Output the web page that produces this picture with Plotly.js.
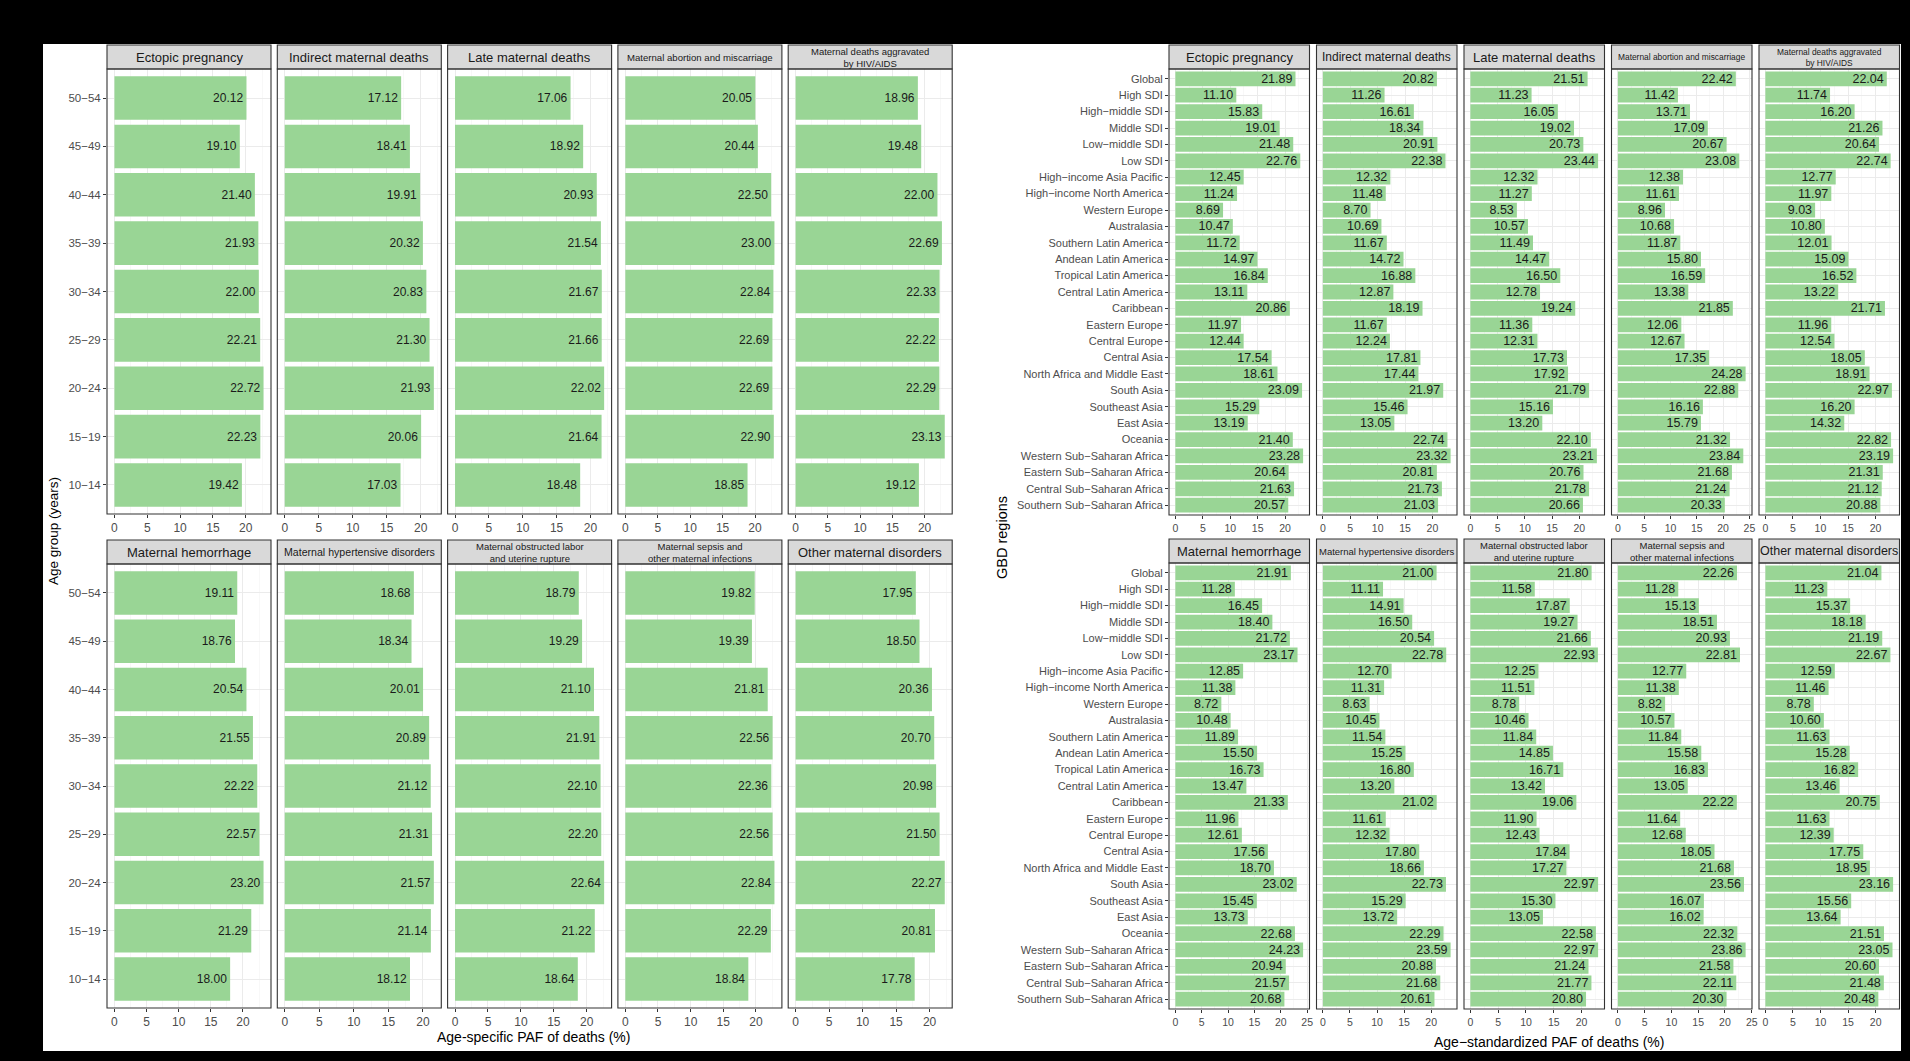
<!DOCTYPE html>
<html><head><meta charset="utf-8">
<script src="https://cdn.plot.ly/plotly-3.0.1.min.js"></script>
<style>html,body{margin:0;padding:0;background:#000;} #chart{width:1910px;height:1061px;}</style>
</head><body><div id="chart"></div>
<script>
// ---------- DATA ----------
const causeTitles = ["Ectopic pregnancy","Indirect maternal deaths","Late maternal deaths","Maternal abortion and miscarriage","Maternal deaths aggravated<br>by HIV/AIDS","Maternal hemorrhage","Maternal hypertensive disorders","Maternal obstructed labor<br>and uterine rupture","Maternal sepsis and<br>other maternal infections","Other maternal disorders"];

// age groups listed top to bottom
const ageGroups = ["50\u221254","45\u221249","40\u221244","35\u221239","30\u221234","25\u221229","20\u221224","15\u221219","10\u221214"];
const ageEctopic     = [20.12,19.10,21.40,21.93,22.00,22.21,22.72,22.23,19.42];
const ageIndirect    = [17.12,18.41,19.91,20.32,20.83,21.30,21.93,20.06,17.03];
const ageLate        = [17.06,18.92,20.93,21.54,21.67,21.66,22.02,21.64,18.48];
const ageAbortion    = [20.05,20.44,22.50,23.00,22.84,22.69,22.69,22.90,18.85];
const ageHIV         = [18.96,19.48,22.00,22.69,22.33,22.22,22.29,23.13,19.12];
const ageHemorrhage  = [19.11,18.76,20.54,21.55,22.22,22.57,23.20,21.29,18.00];
const ageHypert      = [18.68,18.34,20.01,20.89,21.12,21.31,21.57,21.14,18.12];
const ageObstructed  = [18.79,19.29,21.10,21.91,22.10,22.20,22.64,21.22,18.64];
const ageSepsis      = [19.82,19.39,21.81,22.56,22.36,22.56,22.84,22.29,18.84];
const ageOther       = [17.95,18.50,20.36,20.70,20.98,21.50,22.27,20.81,17.78];

// GBD regions listed top to bottom
const regions = ["Global","High SDI","High\u2212middle SDI","Middle SDI","Low\u2212middle SDI","Low SDI","High\u2212income Asia Pacific","High\u2212income North America","Western Europe","Australasia","Southern Latin America","Andean Latin America","Tropical Latin America","Central Latin America","Caribbean","Eastern Europe","Central Europe","Central Asia","North Africa and Middle East","South Asia","Southeast Asia","East Asia","Oceania","Western Sub\u2212Saharan Africa","Eastern Sub\u2212Saharan Africa","Central Sub\u2212Saharan Africa","Southern Sub\u2212Saharan Africa"];
const regEctopic    = [21.89,11.10,15.83,19.01,21.48,22.76,12.45,11.24,8.69,10.47,11.72,14.97,16.84,13.11,20.86,11.97,12.44,17.54,18.61,23.09,15.29,13.19,21.40,23.28,20.64,21.63,20.57];
const regIndirect   = [20.82,11.26,16.61,18.34,20.91,22.38,12.32,11.48,8.70,10.69,11.67,14.72,16.88,12.87,18.19,11.67,12.24,17.81,17.44,21.97,15.46,13.05,22.74,23.32,20.81,21.73,21.03];
const regLate       = [21.51,11.23,16.05,19.02,20.73,23.44,12.32,11.27,8.53,10.57,11.49,14.47,16.50,12.78,19.24,11.36,12.31,17.73,17.92,21.79,15.16,13.20,22.10,23.21,20.76,21.78,20.66];
const regAbortion   = [22.42,11.42,13.71,17.09,20.67,23.08,12.38,11.61,8.96,10.68,11.87,15.80,16.59,13.38,21.85,12.06,12.67,17.35,24.28,22.88,16.16,15.79,21.32,23.84,21.68,21.24,20.33];
const regHIV        = [22.04,11.74,16.20,21.26,20.64,22.74,12.77,11.97,9.03,10.80,12.01,15.09,16.52,13.22,21.71,11.96,12.54,18.05,18.91,22.97,16.20,14.32,22.82,23.19,21.31,21.12,20.88];
const regHemorrhage = [21.91,11.28,16.45,18.40,21.72,23.17,12.85,11.38,8.72,10.48,11.89,15.50,16.73,13.47,21.33,11.96,12.61,17.56,18.70,23.02,15.45,13.73,22.68,24.23,20.94,21.57,20.68];
const regHypert     = [21.00,11.11,14.91,16.50,20.54,22.78,12.70,11.31,8.63,10.45,11.54,15.25,16.80,13.20,21.02,11.61,12.32,17.80,18.66,22.73,15.29,13.72,22.29,23.59,20.88,21.68,20.61];
const regObstructed = [21.80,11.58,17.87,19.27,21.66,22.93,12.25,11.51,8.78,10.46,11.84,14.85,16.71,13.42,19.06,11.90,12.43,17.84,17.27,22.97,15.30,13.05,22.58,22.97,21.24,21.77,20.80];
const regSepsis     = [22.26,11.28,15.13,18.51,20.93,22.81,12.77,11.38,8.82,10.57,11.84,15.58,16.83,13.05,22.22,11.64,12.68,18.05,21.68,23.56,16.07,16.02,22.32,23.86,21.58,22.11,20.30];
const regOther      = [21.04,11.23,15.37,18.18,21.19,22.67,12.59,11.46,8.78,10.60,11.63,15.28,16.82,13.46,20.75,11.63,12.39,17.75,18.95,23.16,15.56,13.64,21.51,23.05,20.60,21.48,20.48];

const ageSeries = [ageEctopic,ageIndirect,ageLate,ageAbortion,ageHIV,ageHemorrhage,ageHypert,ageObstructed,ageSepsis,ageOther];
const regSeries = [regEctopic,regIndirect,regLate,regAbortion,regHIV,regHemorrhage,regHypert,regObstructed,regSepsis,regOther];

// ---------- STYLE / LAYOUT ----------
const W = 1910, H = 1061;
const FONT = "Liberation Sans, Arial, Helvetica, sans-serif";
const BAR = "#99D595";
const stripSizeLeft  = [13,13,13,9.6,9.5,13,10.6,9.5,9.5,13];
const stripSizeRight = [13,12,13,8.4,8.4,13,9.5,9.5,9.5,12.5];

const figs = [
  {cats: ageGroups, series: ageSeries, colL: [107,277.3,447.6,617.9,788.2], colW: 164,
   rows: [[45,69,514],[540,564,1008]], stripSizes: stripSizeLeft, xtick: 12, ytick: 11.5, val: 12},
  {cats: regions, series: regSeries, colL: [1169,1316.5,1464,1611.5,1759], colW: 140.5,
   rows: [[45,69,515],[539,563,1009]], stripSizes: stripSizeRight, xtick: 10.5, ytick: 11, val: 12.5}
];

const traces = [];
const layout = {
  width: W, height: H, margin: {l:0,r:0,t:0,b:0},
  paper_bgcolor: "#000", plot_bgcolor: "#fff", showlegend: false,
  font: {family: FONT},
  shapes: [{type:"rect", xref:"paper", yref:"paper", x0:43/W, x1:1901/W, y0:1-1051/H, y1:1-44/H,
            fillcolor:"#fff", line:{width:0}, layer:"below"}],
  annotations: []
};

let n = 0;
figs.forEach((f) => {
  f.series.forEach((vals, i) => {
    n += 1;
    const col = i % 5, row = Math.floor(i / 5);
    const x0 = f.colL[col], x1 = x0 + f.colW;
    const [h0, h1, p1] = f.rows[row];
    const m = Math.max(...vals);
    const xs = n === 1 ? "x" : "x" + n, ys = n === 1 ? "y" : "y" + n;
    const xa = n === 1 ? "xaxis" : "xaxis" + n, ya = n === 1 ? "yaxis" : "yaxis" + n;
    traces.push({
      type: "bar", orientation: "h", x: vals, y: f.cats, xaxis: xs, yaxis: ys,
      width: 0.9, marker: {color: BAR, line: {width: 0}},
      text: vals.map(v => v.toFixed(2)), textposition: "inside", insidetextanchor: "end",
      textangle: 0, constraintext: "none", cliponaxis: false,
      insidetextfont: {family: FONT, size: f.val, color: "#1a1a1a"},
      hoverinfo: "skip"
    });
    layout[xa] = {
      domain: [x0 / W, x1 / W], anchor: ys, range: [-0.05 * m, 1.05 * m],
      tick0: 0, dtick: 5, ticks: "outside", ticklen: 3, tickwidth: 1, tickcolor: "#333",
      tickfont: {family: FONT, size: f.xtick, color: "#4D4D4D"},
      showgrid: true, gridcolor: "#EBEBEB", gridwidth: 1,
      minor: {dtick: 2.5, showgrid: true, gridcolor: "#F4F4F4", gridwidth: 0.6},
      zeroline: false, showline: false, fixedrange: true
    };
    layout[ya] = {
      domain: [1 - p1 / H, 1 - h1 / H], anchor: xs, type: "category",
      categoryorder: "array", categoryarray: f.cats, range: [f.cats.length - 0.4, -0.6],
      showticklabels: col === 0, ticks: col === 0 ? "outside" : "", ticklen: 3, tickwidth: 1, tickcolor: "#333",
      tickfont: {family: FONT, size: f.ytick, color: "#4D4D4D"},
      showgrid: true, gridcolor: "#EBEBEB", gridwidth: 1,
      zeroline: false, showline: false, fixedrange: true
    };
    // strip
    layout.shapes.push({type:"rect", xref:"paper", yref:"paper", x0:x0/W, x1:x1/W, y0:1-h1/H, y1:1-h0/H,
      fillcolor:"#D9D9D9", line:{color:"#333", width:1.1}, layer:"above"});
    // panel border
    layout.shapes.push({type:"rect", xref:"paper", yref:"paper", x0:x0/W, x1:x1/W, y0:1-p1/H, y1:1-h1/H,
      fillcolor:"rgba(0,0,0,0)", line:{color:"#333", width:1.1}, layer:"above"});
    layout.annotations.push({xref:"paper", yref:"paper", x:(x0+x1)/2/W, y:1-(h0+h1)/2/H,
      xanchor:"center", yanchor:"middle", showarrow:false, text: causeTitles[i],
      font:{family: FONT, size: f.stripSizes[i], color:"#1A1A1A"}});
  });
});

// axis titles
layout.annotations.push(
  {xref:"paper", yref:"paper", x:533/W, y:1-1037/H, xanchor:"center", yanchor:"middle", showarrow:false,
   text:"Age-specific PAF of deaths (%)", font:{family:FONT, size:14, color:"#000"}},
  {xref:"paper", yref:"paper", x:1549/W, y:1-1042/H, xanchor:"center", yanchor:"middle", showarrow:false,
   text:"Age\u2212standardized PAF of deaths (%)", font:{family:FONT, size:14, color:"#000"}},
  {xref:"paper", yref:"paper", x:53/W, y:1-531/H, xanchor:"center", yanchor:"middle", showarrow:false, textangle:-90,
   text:"Age group (years)", font:{family:FONT, size:13.5, color:"#000"}},
  {xref:"paper", yref:"paper", x:1002/W, y:1-537/H, xanchor:"center", yanchor:"middle", showarrow:false, textangle:-90,
   text:"GBD regions", font:{family:FONT, size:14.5, color:"#000"}}
);

Plotly.newPlot("chart", traces, layout, {staticPlot: true, displayModeBar: false});
</script></body></html>
